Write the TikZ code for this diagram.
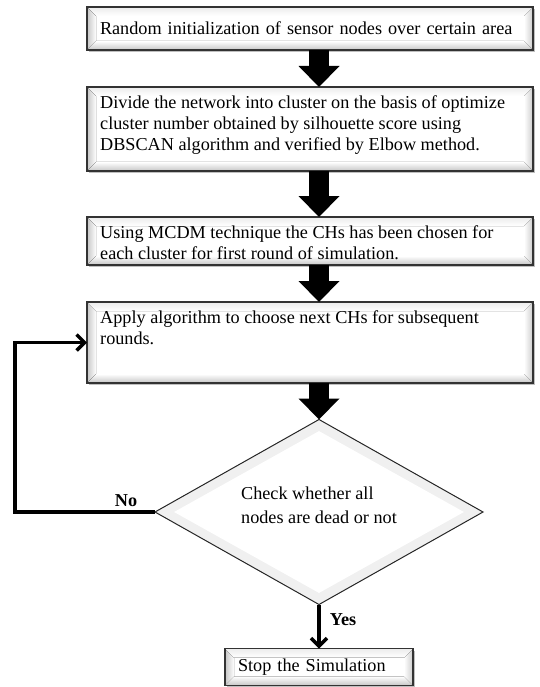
\documentclass[tikz,border=0pt]{standalone}
\usepackage{fontspec}
\setmainfont{Liberation Serif}
\usetikzlibrary{shapes.geometric,arrows.meta,shadows}

\tikzset{
	procbox/.style={draw=black!80, line width=1.2pt, fill=white, outer sep=0pt,
		minimum width=446pt, inner sep=0pt,
		drop shadow={shadow xshift=2pt, shadow yshift=-2pt, opacity=0.5}},
	steptext/.style={anchor=north west, inner xsep=13pt, inner ysep=8pt, align=left},
	decision/.style={diamond, draw=black!85, line width=1pt, aspect=1.77,
		minimum width=328pt, minimum height=185pt, inner sep=0pt, outer sep=0pt,
		fill=gray!12},
	blockarrow/.style={line width=20pt, -{Triangle[length=21pt, width=41pt, line width=0pt]}},
	flowline/.style={line width=3.5pt, line join=miter, -{Straight Barb[length=8pt, width=16pt]}},
	lbl/.style={font=\fontsize{18.2}{22}\selectfont\bfseries}
}

\begin{document}
\begin{tikzpicture}[x=1pt, y=-1pt, font=\fontsize{18.2}{21}\selectfont]
	\useasboundingbox (0,0) rectangle (539,687);

	% steps of the procedure
	\node[procbox, minimum height=43pt] (init) at (310,28.5) {};
	\node[procbox, minimum height=84pt] (cluster) at (310,129) {};
	\node[procbox, minimum height=48pt] (mcdm) at (310,241) {};
	\node[procbox, minimum height=81pt] (nextch) at (310,342.5) {};
	\node[procbox, minimum width=188pt, minimum height=37pt] (stop) at (319,667) {};

	% grey bevel along the inner edges, then the border again
	\foreach \b in {init,cluster,mcdm,nextch,stop} {
		\fill[left color=gray!45, right color=white] (\b.south west) -- (\b.north west)
			-- ([shift={(9pt,-9pt)}]\b.north west) -- ([shift={(9pt,9pt)}]\b.south west) -- cycle;
		\fill[right color=gray!40, left color=white] (\b.south east) -- (\b.north east)
			-- ([shift={(-9pt,-9pt)}]\b.north east) -- ([shift={(-9pt,9pt)}]\b.south east) -- cycle;
		\fill[top color=gray!15, bottom color=white] (\b.north west) -- (\b.north east)
			-- ([shift={(-9pt,-9pt)}]\b.north east) -- ([shift={(9pt,-9pt)}]\b.north west) -- cycle;
		\fill[bottom color=gray!45, top color=white] (\b.south west) -- (\b.south east)
			-- ([shift={(-9pt,9pt)}]\b.south east) -- ([shift={(9pt,9pt)}]\b.south west) -- cycle;
		\draw[black!80, line width=1.2pt] (\b.south west) rectangle (\b.north east);
	}

	% texts of the steps
	\node[text width=420pt, align=left] (inittext) at (init) {Random initialization of sensor nodes over certain area};
	\node[steptext] (clustertext) at (cluster.north west)
		{Divide the network into cluster on the basis of optimize\\
		cluster number obtained by silhouette score using\\
		DBSCAN algorithm and verified by Elbow method.};
	\node[steptext] (mcdmtext) at (mcdm.north west)
		{Using MCDM technique the CHs has been chosen for\\
		each cluster for first round of simulation.};
	\node[steptext] (nextchtext) at (nextch.north west)
		{Apply algorithm to choose next CHs for subsequent\\
		rounds.};
	\node[text width=162pt, align=left] (stoptext) at (stop) {Stop the Simulation};

	% decision with a lighter face inside
	\node[decision] (check) at (319,512) {};
	\node[diamond, fill=white, aspect=1.77, minimum width=290pt, minimum height=162pt,
		inner sep=0pt] (checkface) at (check) {};
	\node[align=left, font=\fontsize{18.2}{24}\selectfont] (checktext) at ([yshift=7pt]check)
		{Check whether all\\nodes are dead or not};

	% block arrows between the steps
	\draw[blockarrow] (init.south -| check.north) -- (cluster.north -| check.north);
	\draw[blockarrow] (cluster.south -| check.north) -- (mcdm.north -| check.north);
	\draw[blockarrow] (mcdm.south -| check.north) -- (nextch.north -| check.north);
	\draw[blockarrow] (nextch.south -| check.north) -- (check.north);

	% decision branches
	\draw[flowline] (check.west) -| ([xshift=-72pt]nextch.west) -- (nextch.west);
	\draw[flowline] (check.south) -- (stop.north);
	\node[lbl] (no) at (126,501) {No};
	\node[lbl] (yes) at (343,620) {Yes};
\end{tikzpicture}
\end{document}
